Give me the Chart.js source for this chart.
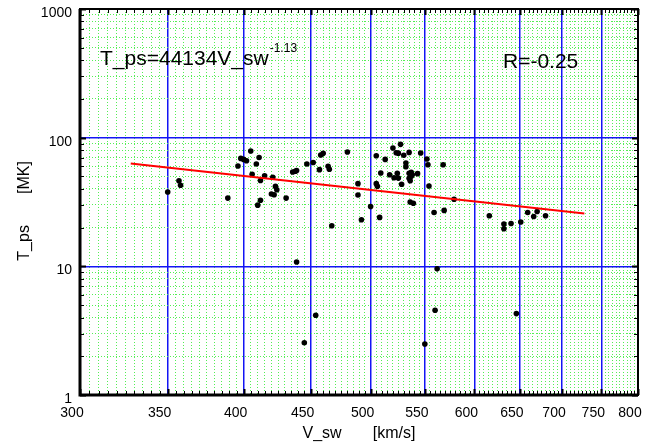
<!DOCTYPE html>
<html>
<head>
<meta charset="utf-8">
<script src="https://cdn.jsdelivr.net/npm/chart.js@4"></script>
<style>
  html, body { margin: 0; padding: 0; background: #fff; }
  canvas { display: block; }
</style>
</head>
<body>
<canvas id="tempChart" width="657" height="446"></canvas>
<script>
// solar wind speed vs proton temperature (log-log)
const speed = [350, 357, 358, 389, 396, 398, 400, 402, 405, 411, 409, 406, 415, 412, 421, 423, 424, 420, 422, 431,
  412, 410, 436, 438, 439, 447, 452, 457, 458, 460, 464, 465, 467, 480, 489, 489, 492, 500, 505, 505,
  506, 508, 509, 513, 517, 520, 521, 523, 525, 524, 525, 527, 528, 530, 532, 532, 535, 535, 537, 537,
  535, 536, 538, 543, 546, 536, 539, 552, 553, 554, 559, 568, 569, 579, 616, 632, 632, 640, 651, 659,
  666, 670, 680, 439, 454, 445, 562, 560, 550, 646];
const temp = [37.8, 46.3, 42.7, 33.9, 60.2, 69.0, 67.8, 66.2, 78.8, 70.2, 62.4, 52.0, 50.6, 46.5, 49.3, 41.8, 39.4, 36.5, 36.0, 33.9,
  32.6, 29.9, 54.1, 54.9, 55.6, 62.4, 64.2, 56.4, 73.3, 75.5, 60.0, 56.9, 20.7, 77.4, 43.9, 35.8, 23.0, 29.2, 72.4, 43.9,
  41.9, 24.0, 53.1, 67.8, 51.5, 83.1, 48.8, 76.4, 75.8, 52.9, 48.5, 88.7, 43.5, 73.1, 63.6, 59.5, 76.8, 52.9, 53.9, 50.1,
  48.4, 46.3, 51.5, 52.5, 76.0, 31.6, 30.9, 68.3, 61.6, 42.1, 26.2, 61.6, 27.2, 33.2, 24.7, 21.3, 19.6, 21.5, 22.1, 26.2,
  24.4, 26.7, 24.7, 10.8, 4.17, 2.55, 9.56, 4.56, 2.49, 4.29];

// power-law fit endpoints
const fitSpeed = [328, 728];
const fitTemp = [63, 25.7];

const xLabels = [300, 350, 400, 450, 500, 550, 600, 650, 700, 750, 800];
const yLabels = [1, 10, 100, 1000];

document.addEventListener("DOMContentLoaded", () => {
  const ctx = document.getElementById("tempChart").getContext("2d");

  // minor ticks: every 5 km/s, and 1..9 per decade
  const xTicks = [];
  for (let v = 300; v <= 800; v += 5) xTicks.push(v);
  const yTicks = [];
  [1, 10, 100].forEach(d => { for (let k = 1; k <= 9; k++) yTicks.push(d * k); });
  yTicks.push(1000);

  const isMajorX = v => xLabels.includes(v) && v !== 300 && v !== 800;
  const isMajorY = v => v === 10 || v === 100;

  const BLUE = "#1414f5";
  const GREEN = "#55ee55";

  const noEdgePadding = s => {
    s.paddingTop = 0;
    s.paddingBottom = 0;
    s.paddingLeft = 0;
    s.paddingRight = 0;
  };

  const framePlugin = {
    id: "frame",
    afterDraw(chart) {
      const c = chart.ctx;
      const a = chart.chartArea;
      const x = chart.scales.x;
      const y = chart.scales.y;
      c.save();
      c.strokeStyle = "#000";

      xTicks.forEach(v => {
        const px = Math.round(x.getPixelForValue(v)) + 0.5;
        const major = xLabels.includes(v);
        const len = major ? 6 : 4;
        c.lineWidth = major ? 2 : 1;
        c.beginPath();
        c.moveTo(px, a.bottom); c.lineTo(px, a.bottom - len);
        c.moveTo(px, a.top); c.lineTo(px, a.top + len);
        c.stroke();
      });
      yTicks.forEach(v => {
        const py = Math.round(y.getPixelForValue(v)) + 0.5;
        const major = yLabels.includes(v);
        const len = major ? 6 : 4;
        c.lineWidth = major ? 2 : 1;
        c.beginPath();
        c.moveTo(a.left, py); c.lineTo(a.left + len, py);
        c.moveTo(a.right, py); c.lineTo(a.right - len, py);
        c.stroke();
      });

      c.lineWidth = 2;
      c.strokeRect(a.left, a.top, a.right - a.left, a.bottom - a.top);
      c.lineWidth = 3;
      c.beginPath();
      c.moveTo(a.left, a.top); c.lineTo(a.left, a.bottom); c.lineTo(a.right, a.bottom);
      c.stroke();

      // annotations
      c.fillStyle = "#000";
      c.textBaseline = "alphabetic";
      c.textAlign = "left";
      c.font = "21px 'Liberation Sans', Arial, sans-serif";
      const eq = "T_ps=44134V_sw";
      c.fillText(eq, 100, 65);
      const w = c.measureText(eq).width;
      c.font = "12px 'Liberation Sans', Arial, sans-serif";
      c.fillText("-1.13", 100 + w + 1, 52);
      c.font = "21px 'Liberation Sans', Arial, sans-serif";
      c.fillText("R=-0.25", 503, 68);
      c.restore();
    }
  };

  new Chart(ctx, {
    type: "scatter",
    data: {
      datasets: [
        {
          label: "Fit",
          type: "line",
          data: fitSpeed.map((v, i) => ({ x: v, y: fitTemp[i] })),
          borderColor: "#ff0000",
          borderWidth: 2,
          pointRadius: 0,
          fill: false,
          tension: 0
        },
        {
          label: "T_ps",
          data: speed.map((v, i) => ({ x: v, y: temp[i] })),
          backgroundColor: "#000",
          borderWidth: 0,
          pointRadius: 2.8
        }
      ]
    },
    options: {
      responsive: false,
      animation: false,
      devicePixelRatio: 1,
      layout: { padding: { top: 9, right: 19, left: 0, bottom: 0 } },
      plugins: {
        legend: { display: false },
        tooltip: { enabled: false }
      },
      scales: {
        x: {
          type: "logarithmic",
          min: 300,
          max: 800,
          bounds: "data",
          afterFit: s => { s.height = 51; noEdgePadding(s); },
          afterBuildTicks: s => { s.ticks = xTicks.map(v => ({ value: v })); },
          grid: {
            drawTicks: false,
            color: c => {
              const v = c.tick ? c.tick.value : null;
              if (v === 300 || v === 800) return "rgba(0,0,0,0)";
              return isMajorX(v) ? BLUE : GREEN;
            },
            lineWidth: c => (c.tick && isMajorX(c.tick.value) ? 1.5 : 1)
          },
          border: {
            display: false,
            dash: c => (c.tick && isMajorX(c.tick.value) ? [] : [1, 2])
          },
          ticks: {
            autoSkip: false,
            maxRotation: 0,
            padding: 10,
            labelOffset: -8,
            color: "#000",
            font: { family: "'Liberation Sans', Arial, sans-serif", size: 14 },
            callback: v => (xLabels.includes(v) ? String(v) : "")
          },
          title: {
            display: true,
            text: "V_sw       [km/s]",
            color: "#000",
            font: { family: "'Liberation Sans', Arial, sans-serif", size: 16 },
            padding: { top: 0, bottom: 3 }
          }
        },
        y: {
          type: "logarithmic",
          min: 1,
          max: 1000,
          bounds: "data",
          afterFit: s => { s.width = 80; noEdgePadding(s); },
          afterBuildTicks: s => { s.ticks = yTicks.map(v => ({ value: v })); },
          grid: {
            drawTicks: false,
            color: c => {
              const v = c.tick ? c.tick.value : null;
              if (v === 1 || v === 1000) return "rgba(0,0,0,0)";
              return isMajorY(v) ? BLUE : GREEN;
            },
            lineWidth: c => (c.tick && isMajorY(c.tick.value) ? 1.5 : 1)
          },
          border: {
            display: false,
            dash: c => (c.tick && isMajorY(c.tick.value) ? [] : [1, 2])
          },
          ticks: {
            autoSkip: false,
            padding: 8,
            labelOffset: 4,
            color: "#000",
            font: { family: "'Liberation Sans', Arial, sans-serif", size: 14 },
            callback: v => (yLabels.includes(v) ? String(v) : "")
          },
          title: {
            display: true,
            text: "T_ps       [MK]    ",
            color: "#000",
            font: { family: "'Liberation Sans', Arial, sans-serif", size: 16 },
            padding: { top: 15, bottom: 0 }
          }
        }
      }
    },
    plugins: [framePlugin]
  });
});
</script>
</body>
</html>
